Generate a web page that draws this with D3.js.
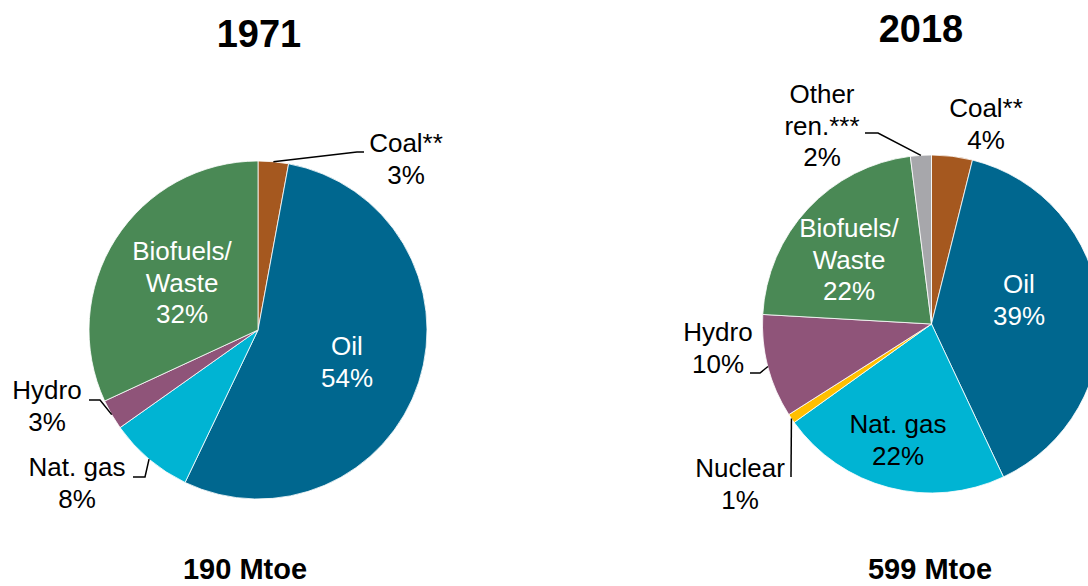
<!DOCTYPE html>
<html lang="en">
<head>
    <meta charset="UTF-8">
    <title>Energy supply 1971 vs 2018</title>
    <script src="https://cdn.jsdelivr.net/npm/d3@7/dist/d3.min.js"></script>
    <style>
        body { margin: 0; background: #fff; }
        svg { display: block; font-family: "Liberation Sans", Arial, sans-serif; }
    </style>
</head>
<body>
    <div class="container"></div>
    <script>
        // data (share of total, %)
        const categories = ["Coal**", "Oil", "Nat. gas", "Nuclear", "Hydro", "Biofuels/Waste", "Other ren.***"]
        const values1971 = [2.9, 54.2, 8.1, 0, 2.9, 31.9, 0]
        const values2018 = [3.9, 39.1, 22.1, 0.9, 9.9, 22.1, 2.0]
        const years = ["1971", "2018"]
        const totals = ["190 Mtoe", "599 Mtoe"]

        const colors = ["#A5581F", "#00678F", "#00B4D3", "#FFBF00", "#8F5479", "#4A8955", "#A7A7AB"]
        const nameLines = {
            "Coal**": ["Coal**"],
            "Oil": ["Oil"],
            "Nat. gas": ["Nat. gas"],
            "Nuclear": ["Nuclear"],
            "Hydro": ["Hydro"],
            "Biofuels/Waste": ["Biofuels/", "Waste"],
            "Other ren.***": ["Other", "ren.***"]
        }

        // label placement per chart: x (centre), y (first baseline), fill, leader elbow points
        const layout = [
            {
                cx: 258, cy: 330, titleX: 259, titleY: 47, totalX: 245,
                labels: {
                    "Coal**": { x: 406, y: 152, fill: "#000", leader: [[357, 152], [364, 152]] },
                    "Oil": { x: 347, y: 355, fill: "#fff" },
                    "Nat. gas": { x: 77, y: 476, fill: "#000", leader: [[145, 477], [133, 477]] },
                    "Hydro": { x: 47, y: 399, fill: "#000", leader: [[100, 400], [89, 400]] },
                    "Biofuels/Waste": { x: 182, y: 260, fill: "#fff" }
                }
            },
            {
                cx: 931.5, cy: 324, titleX: 921, titleY: 42, totalX: 930,
                labels: {
                    "Coal**": { x: 986, y: 117, fill: "#000" },
                    "Oil": { x: 1019, y: 293, fill: "#fff" },
                    "Nat. gas": { x: 898, y: 433, fill: "#000" },
                    "Nuclear": { x: 740, y: 477, fill: "#000", leader: [[791, 477]] },
                    "Hydro": { x: 718, y: 341, fill: "#000", leader: [[760, 373], [750, 373]] },
                    "Biofuels/Waste": { x: 849, y: 237, fill: "#fff" },
                    "Other ren.***": { x: 822, y: 103, fill: "#000", leader: [[878, 133], [865, 133]] }
                }
            }
        ]

        const width = 1088, height = 586
        const radius = 169
        const lineH = 31.5

        const svg = d3.select(".container").append("svg")
            .attr("width", width)
            .attr("height", height)

        const pie = d3.pie().sort(null).value(d => d.value)
        const arc = d3.arc().innerRadius(0).outerRadius(radius)
        const edge = d3.arc().innerRadius(radius).outerRadius(radius)

        const series = [values1971, values2018]

        series.forEach((vals, i) => {
            const lay = layout[i]
            const rows = categories.map((c, k) => ({ name: c, value: vals[k], color: colors[k] }))
            const arcs = pie(rows).filter(d => d.data.value > 0)

            const g = svg.append("g").attr("transform", `translate(${lay.cx},${lay.cy})`)

            g.selectAll("path.slice")
                .data(arcs)
                .join("path")
                .attr("class", "slice")
                .attr("d", arc)
                .attr("fill", d => d.data.color)
                .attr("stroke", "#fff")
                .attr("stroke-width", 0.8)

            // leader lines from slice edge midpoint
            const withLeader = arcs.filter(d => lay.labels[d.data.name] && lay.labels[d.data.name].leader)
            svg.selectAll(null)
                .data(withLeader)
                .join("path")
                .attr("fill", "none")
                .attr("stroke", "#000")
                .attr("stroke-width", 1.5)
                .attr("d", d => {
                    const c = edge.centroid(d)
                    const pts = [[c[0] + lay.cx, c[1] + lay.cy]].concat(lay.labels[d.data.name].leader)
                    return d3.line()(pts)
                })

            // labels
            arcs.forEach(d => {
                const pos = lay.labels[d.data.name]
                if (!pos) return
                const lines = nameLines[d.data.name].concat([Math.round(d.data.value) + "%"])
                const t = svg.append("text")
                    .attr("x", pos.x)
                    .attr("y", pos.y)
                    .attr("text-anchor", "middle")
                    .attr("font-size", 26)
                    .attr("fill", pos.fill)
                t.selectAll("tspan")
                    .data(lines)
                    .join("tspan")
                    .attr("x", pos.x)
                    .attr("dy", (l, j) => j === 0 ? 0 : lineH)
                    .text(l => l)
            })

            svg.append("text")
                .attr("x", lay.titleX)
                .attr("y", lay.titleY)
                .attr("text-anchor", "middle")
                .attr("font-size", 38)
                .attr("font-weight", "bold")
                .text(years[i])

            svg.append("text")
                .attr("x", lay.totalX)
                .attr("y", 579)
                .attr("text-anchor", "middle")
                .attr("font-size", 29)
                .attr("font-weight", "bold")
                .text(totals[i])
        })
    </script>
</body>
</html>
